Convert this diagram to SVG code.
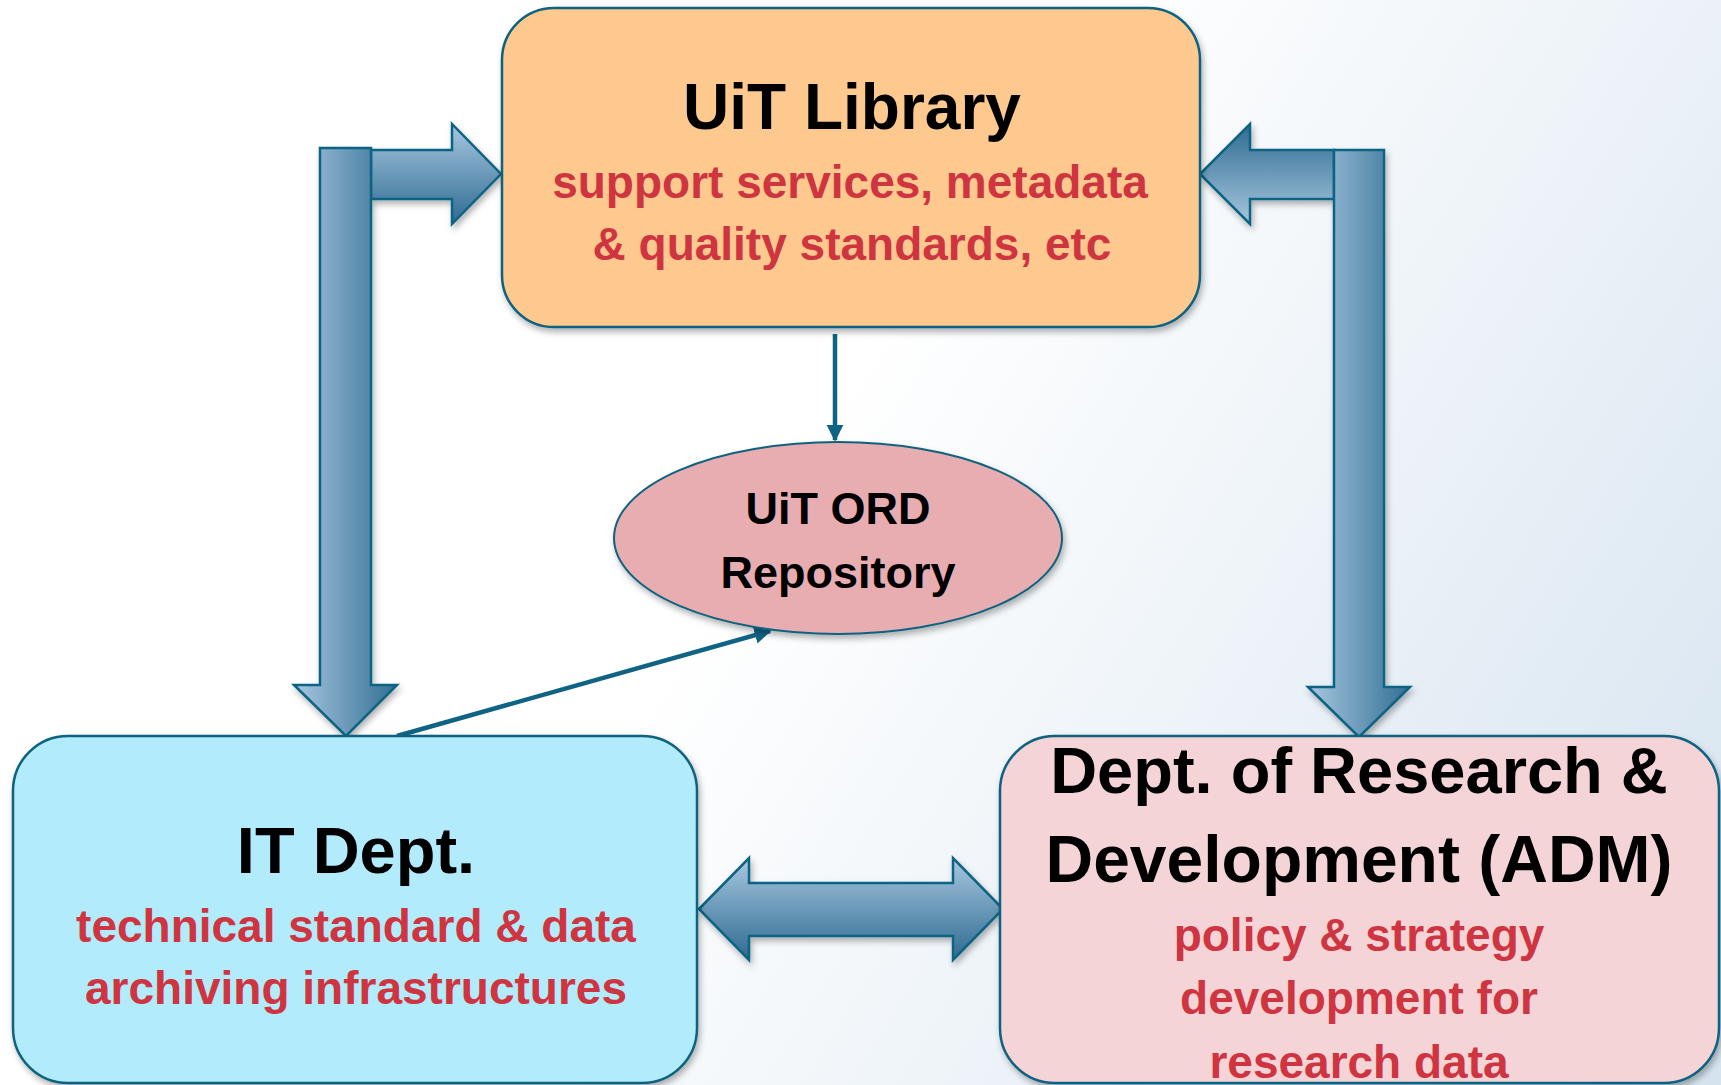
<svg xmlns="http://www.w3.org/2000/svg" width="1721" height="1085" viewBox="0 0 1721 1085">
<defs>
<linearGradient id="bg" x1="0" y1="0" x2="1721" y2="1085" gradientUnits="userSpaceOnUse">
<stop offset="0" stop-color="#ffffff"/>
<stop offset="0.45" stop-color="#ffffff"/>
<stop offset="1" stop-color="#d5e3ef"/>
</linearGradient>
<linearGradient id="gH" x1="0" y1="0" x2="1" y2="0">
<stop offset="0" stop-color="#a7c7e0"/>
<stop offset="1" stop-color="#336f93"/>
</linearGradient>
<linearGradient id="gV" x1="0" y1="0" x2="0" y2="1">
<stop offset="0" stop-color="#a7c7e0"/>
<stop offset="1" stop-color="#2e6b90"/>
</linearGradient>
<linearGradient id="gVr" x1="0" y1="1" x2="0" y2="0">
<stop offset="0" stop-color="#a7c7e0"/>
<stop offset="1" stop-color="#2e6b90"/>
</linearGradient>
<filter id="sh" x="-10%" y="-10%" width="120%" height="125%">
<feDropShadow dx="2" dy="4" stdDeviation="3" flood-color="#000" flood-opacity="0.3"/>
</filter>
<marker id="ah" viewBox="0 0 10 10" refX="9" refY="5" markerWidth="3.8" markerHeight="3.8" orient="auto">
<path d="M0,0 L10,5 L0,10 Z" fill="#0f6383"/>
</marker>
<style>
.box{stroke:#11627f;stroke-width:2.5}
.blk{stroke:#0f6383;stroke-width:2.5;stroke-linejoin:miter}
.t1{font-family:"Liberation Sans",Arial,sans-serif;font-weight:bold;fill:#000;text-anchor:middle}
.t2{font-family:"Liberation Sans",Arial,sans-serif;font-weight:bold;fill:#cf3540;text-anchor:middle;font-size:46px}
.con{stroke:#0f6383;stroke-width:4.5;fill:none}
</style>
</defs>
<rect x="0" y="0" width="1721" height="1085" fill="url(#bg)"/>

<g id="block-arrows" filter="url(#sh)">
<path class="blk" fill="url(#gV)" d="M371,150 L452,150 L452,124 L501,174 L452,224 L452,199 L371,199 Z"/>
<path class="blk" fill="url(#gH)" d="M320,148 L371,148 L371,685 L397,685 L346,736 L294,685 L320,685 Z"/>
<path class="blk" fill="url(#gVr)" d="M1334,150 L1250,150 L1250,124 L1200,174 L1250,224 L1250,199 L1334,199 Z"/>
<path class="blk" fill="url(#gH)" d="M1334,150 L1384,150 L1384,687 L1410,687 L1359,737 L1308,687 L1334,687 Z"/>
<path class="blk" fill="url(#gV)" d="M699,909 L749,858 L749,883 L953,883 L953,858 L1003,909 L953,960 L953,936 L749,936 L749,960 Z"/>
</g>

<g id="connectors">
<line class="con" x1="835" y1="334" x2="835" y2="440" marker-end="url(#ah)"/>
<line class="con" x1="397" y1="736" x2="770" y2="631" marker-end="url(#ah)"/>
</g>

<g id="uit-library">
<rect class="box" x="502" y="8" width="698" height="319" rx="52" fill="#fec98e" filter="url(#sh)"/>
<text class="t1" x="852" y="129" font-size="64">UiT Library</text>
<text class="t2" x="850" y="198">support services, metadata</text>
<text class="t2" x="852" y="260">&amp; quality standards, etc</text>
</g>

<g id="uit-ord">
<ellipse cx="838" cy="538" rx="224" ry="96" fill="#e8adb0" stroke="#11627f" stroke-width="2" filter="url(#sh)"/>
<text class="t1" x="838" y="524" font-size="45">UiT ORD</text>
<text class="t1" x="838" y="588" font-size="45">Repository</text>
</g>

<g id="it-dept">
<rect class="box" x="13" y="736" width="684" height="347" rx="55" fill="#b1ebfc" filter="url(#sh)"/>
<text class="t1" x="356" y="873" font-size="65">IT Dept.</text>
<text class="t2" x="356" y="942">technical standard &amp; data</text>
<text class="t2" x="356" y="1004">archiving infrastructures</text>
</g>

<g id="adm">
<rect class="box" x="1000" y="736" width="719" height="347" rx="55" fill="#f4d4d7" filter="url(#sh)"/>
<text class="t1" x="1359" y="793" font-size="65">Dept. of Research &amp;</text>
<text class="t1" x="1359" y="882" font-size="66">Development (ADM)</text>
<text class="t2" x="1359" y="951">policy &amp; strategy</text>
<text class="t2" x="1359" y="1014">development for</text>
<text class="t2" x="1359" y="1078">research data</text>
</g>
</svg>
